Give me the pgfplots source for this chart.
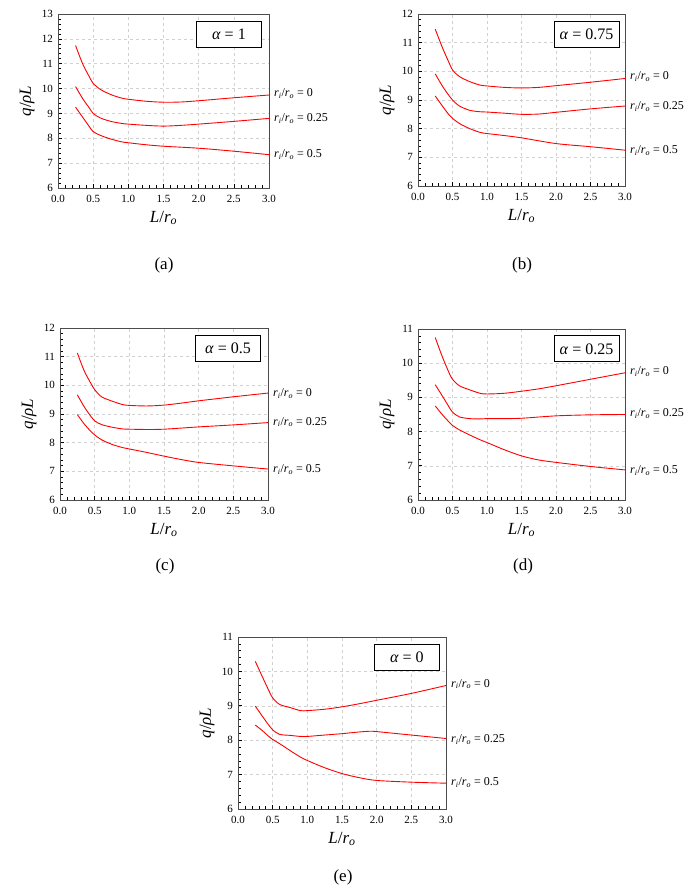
\documentclass[border=0pt]{standalone}
\usepackage{pgfplots}
\pgfplotsset{compat=1.18}
\usepackage{fontspec}
\setmainfont{Liberation Serif}
\newcommand{\rr}{\textit{r}\textsubscript{\textit{i}}/\textit{r}\textsubscript{\textit{o}}}
\pgfplotsset{
  panel/.style={
    scale only axis, anchor=south west,
    xmin=0, xmax=3, ymin=6,
    xtick={0,0.5,1,1.5,2,2.5,3},
    ytick distance=1,
    minor x tick num=4, minor y tick num=4,
    xticklabel style={/pgf/number format/fixed, /pgf/number format/fixed zerofill, /pgf/number format/precision=1, yshift=-4pt},
    /pgf/number format/assume math mode=true,
    grid=major, major grid style={dashed, black!18, line width=0.5pt},
    tick align=inside, tick pos=left,
    major tick length=3.5pt, minor tick length=3pt,
    every tick/.style={black, line width=0.6pt},
    axis line style={draw=black!70, line width=0.9pt},
    ticklabel style={font=\fontsize{11}{11}\selectfont},
    yticklabel style={xshift=-1.5pt},
    xlabel={\textit{L}/\textit{r}\textsubscript{\textit{o}}},
    ylabel={\textit{q}/\textit{ρL}},
    label style={font=\fontsize{17}{17}\selectfont},
    xlabel style={at={([yshift=-30pt]axis description cs:0.5,0)}, anchor=center},
    ylabel style={at={([xshift=-31pt]axis description cs:0,0.5)}, anchor=center},
    clip=false,
    no markers,
    every axis plot post/.append style={draw=red, line width=0.9pt, smooth, mark=none},
  },
}
\tikzset{
  abox/.style={draw=black, line width=0.8pt, fill=white, minimum width=65pt, minimum height=26pt, inner sep=0pt, font=\fontsize{16}{16}\selectfont},
  clab/.style={anchor=west, xshift=4pt, inner sep=1pt, font=\fontsize{12}{12}\selectfont},
  subcap/.style={font=\fontsize{17}{17}\selectfont},
}
\begin{document}
\begin{tikzpicture}
\useasboundingbox (0pt,0pt) rectangle (685pt,894pt);

% (a)
\begin{axis}[panel, at={(58pt,706pt)}, width=211pt, height=174pt, ymax=13]
\addplot coordinates {(0.25,11.73) (0.35,11.0) (0.45,10.45) (0.5,10.21) (0.6,9.97) (0.75,9.76) (0.9,9.62) (1.0,9.57) (1.25,9.49) (1.5,9.45) (1.75,9.46) (2.0,9.51) (2.5,9.63) (3.0,9.74)};
\addplot coordinates {(0.25,10.08) (0.35,9.6) (0.45,9.2) (0.5,9.0) (0.6,8.82) (0.75,8.68) (0.9,8.6) (1.0,8.57) (1.25,8.52) (1.5,8.49) (1.75,8.52) (2.0,8.57) (2.5,8.68) (3.0,8.80)};
\addplot coordinates {(0.25,9.25) (0.35,8.85) (0.45,8.45) (0.5,8.27) (0.6,8.12) (0.75,7.97) (0.9,7.86) (1.0,7.82) (1.25,7.74) (1.5,7.68) (2.0,7.6) (2.5,7.48) (3.0,7.34)};
\node[clab] at (axis cs:3,9.80) {\rr\ = 0};
\node[clab] at (axis cs:3,8.80) {\rr\ = 0.25};
\node[clab] at (axis cs:3,7.34) {\rr\ = 0.5};
\node[abox] at (axis description cs:0.81,0.882) {\textit{α} = 1};
\end{axis}

% (b)
\begin{axis}[panel, at={(418pt,708pt)}, width=207pt, height=172pt, ymax=12]
\addplot coordinates {(0.25,11.47) (0.35,10.85) (0.45,10.3) (0.5,10.05) (0.6,9.82) (0.75,9.64) (0.9,9.52) (1.0,9.49) (1.25,9.44) (1.5,9.42) (1.75,9.44) (2.0,9.5) (2.5,9.62) (3.0,9.75)};
\addplot coordinates {(0.25,9.91) (0.35,9.5) (0.45,9.15) (0.5,9.0) (0.6,8.79) (0.75,8.64) (0.9,8.59) (1.0,8.58) (1.25,8.54) (1.5,8.5) (1.75,8.51) (2.0,8.57) (2.5,8.69) (3.0,8.79)};
\addplot coordinates {(0.25,9.14) (0.35,8.8) (0.45,8.48) (0.5,8.36) (0.6,8.18) (0.75,8.0) (0.9,7.87) (1.0,7.83) (1.25,7.76) (1.5,7.68) (2.0,7.48) (2.5,7.37) (3.0,7.25)};
\node[clab] at (axis cs:3,9.82) {\rr\ = 0};
\node[clab] at (axis cs:3,8.76) {\rr\ = 0.25};
\node[clab] at (axis cs:3,7.24) {\rr\ = 0.5};
\node[abox] at (axis description cs:0.814,0.881) {\textit{α} = 0.75};
\end{axis}

% (c)
\begin{axis}[panel, at={(60pt,394pt)}, width=208pt, height=172pt, ymax=12]
\addplot coordinates {(0.25,11.13) (0.35,10.5) (0.45,10.05) (0.5,9.85) (0.6,9.6) (0.75,9.45) (0.9,9.33) (1.0,9.30) (1.25,9.28) (1.5,9.31) (1.75,9.38) (2.0,9.46) (2.5,9.6) (3.0,9.73)};
\addplot coordinates {(0.25,9.67) (0.35,9.25) (0.45,8.9) (0.5,8.76) (0.6,8.63) (0.75,8.54) (0.9,8.48) (1.0,8.47) (1.25,8.46) (1.5,8.47) (2.0,8.55) (2.5,8.62) (3.0,8.70)};
\addplot coordinates {(0.25,8.98) (0.35,8.65) (0.45,8.38) (0.5,8.27) (0.6,8.1) (0.75,7.94) (0.9,7.83) (1.0,7.78) (1.25,7.66) (1.5,7.53) (1.75,7.41) (2.0,7.31) (2.5,7.19) (3.0,7.08)};
\node[clab] at (axis cs:3,9.72) {\rr\ = 0};
\node[clab] at (axis cs:3,8.72) {\rr\ = 0.25};
\node[clab] at (axis cs:3,7.07) {\rr\ = 0.5};
\node[abox] at (axis description cs:0.808,0.881) {\textit{α} = 0.5};
\end{axis}

% (d)
\begin{axis}[panel, at={(418pt,394pt)}, width=207pt, height=171pt, ymax=11]
\addplot coordinates {(0.25,10.75) (0.35,10.2) (0.45,9.72) (0.5,9.53) (0.6,9.34) (0.75,9.22) (0.9,9.12) (1.0,9.10) (1.25,9.12) (1.5,9.18) (1.75,9.25) (2.0,9.34) (2.5,9.53) (3.0,9.72)};
\addplot coordinates {(0.25,9.37) (0.35,9.05) (0.45,8.72) (0.5,8.57) (0.6,8.43) (0.75,8.38) (0.9,8.37) (1.0,8.38) (1.25,8.38) (1.5,8.39) (2.0,8.46) (2.5,8.49) (3.0,8.50)};
\addplot coordinates {(0.25,8.75) (0.35,8.5) (0.45,8.28) (0.5,8.18) (0.6,8.05) (0.75,7.9) (0.9,7.76) (1.0,7.68) (1.25,7.47) (1.5,7.29) (1.75,7.17) (2.0,7.1) (2.5,6.98) (3.0,6.88)};
\node[clab] at (axis cs:3,9.75) {\rr\ = 0};
\node[clab] at (axis cs:3,8.52) {\rr\ = 0.25};
\node[clab] at (axis cs:3,6.86) {\rr\ = 0.5};
\node[abox] at (axis description cs:0.814,0.884) {\textit{α} = 0.25};
\end{axis}

% (e)
\begin{axis}[panel, at={(238pt,85pt)}, width=208pt, height=172pt, ymax=11]
\addplot coordinates {(0.25,10.29) (0.35,9.85) (0.45,9.42) (0.5,9.23) (0.6,9.04) (0.75,8.95) (0.9,8.86) (1.0,8.86) (1.25,8.9) (1.5,8.97) (1.75,9.06) (2.0,9.16) (2.5,9.36) (3.0,9.59)};
\addplot coordinates {(0.25,8.99) (0.35,8.7) (0.45,8.42) (0.5,8.3) (0.6,8.17) (0.75,8.14) (0.9,8.11) (1.0,8.11) (1.25,8.15) (1.5,8.19) (1.75,8.24) (1.9,8.26) (2.0,8.25) (2.5,8.15) (3.0,8.05)};
\addplot coordinates {(0.25,8.44) (0.35,8.28) (0.45,8.1) (0.5,8.02) (0.6,7.9) (0.75,7.7) (0.9,7.51) (1.0,7.41) (1.25,7.2) (1.5,7.03) (1.75,6.91) (2.0,6.83) (2.5,6.78) (3.0,6.75)};
\node[clab] at (axis cs:3,9.63) {\rr\ = 0};
\node[clab] at (axis cs:3,8.02) {\rr\ = 0.25};
\node[clab] at (axis cs:3,6.76) {\rr\ = 0.5};
\node[abox] at (axis description cs:0.812,0.882) {\textit{α} = 0};
\end{axis}

\node[subcap] at (164pt,629pt) {(a)};
\node[subcap] at (522pt,629pt) {(b)};
\node[subcap] at (165pt,328pt) {(c)};
\node[subcap] at (523pt,328pt) {(d)};
\node[subcap] at (343pt,17pt) {(e)};
\end{tikzpicture}
\end{document}
